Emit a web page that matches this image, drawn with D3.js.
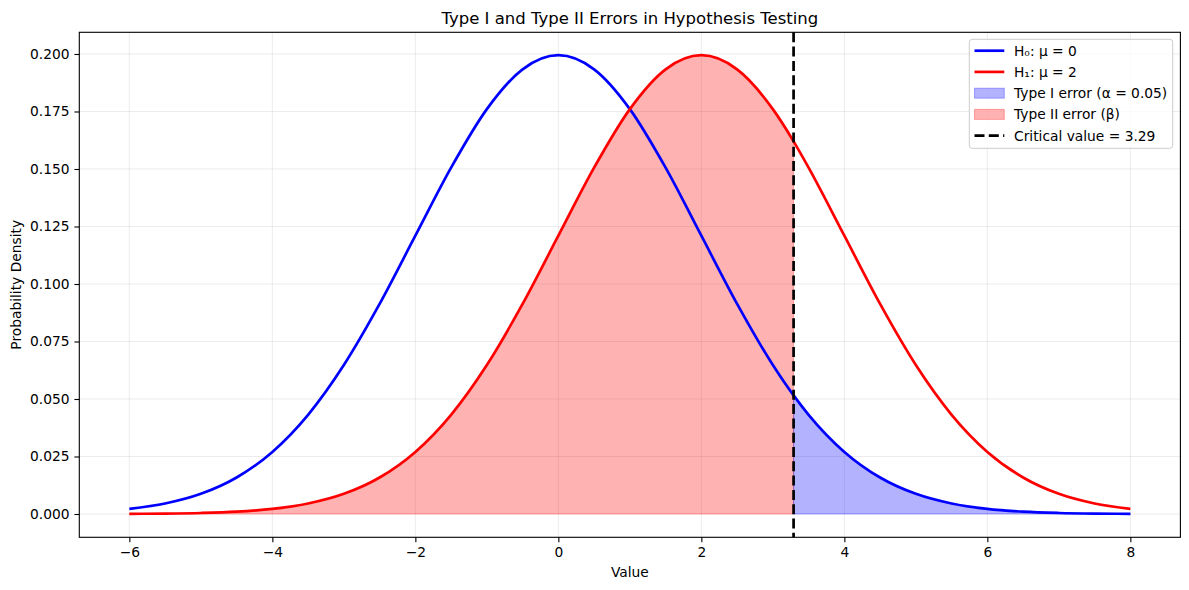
<!DOCTYPE html>
<html>
<head>
<meta charset="utf-8">
<script src="https://cdn.jsdelivr.net/npm/d3@7"></script>
<style>
  html, body { margin: 0; padding: 0; background: #fff; }
  svg { display: block; font-family: "DejaVu Sans", sans-serif; }
</style>
</head>
<body>
<svg id="chart" width="1189" height="590"></svg>
<script>
const xValues = [-6, -5.5, -5, -4.5, -4, -3.5, -3, -2.5, -2, -1.5, -1, -0.5, 0, 0.5, 1, 1.5, 2, 2.5, 3, 3.29, 3.5, 4, 4.5, 5, 5.5, 6, 6.5, 7, 7.5, 8];
const h0Values = [0.00222, 0.00455, 0.00876, 0.01587, 0.02700, 0.04314, 0.06476, 0.09132, 0.12099, 0.15057, 0.17603, 0.19333, 0.19947, 0.19333, 0.17603, 0.15057, 0.12099, 0.09132, 0.06476, 0.05156, 0.04314, 0.02700, 0.01587, 0.00876, 0.00455, 0.00222, 0.00101, 0.00044, 0.00018, 0.00007];
const h1Values = [0.00007, 0.00018, 0.00044, 0.00101, 0.00222, 0.00455, 0.00876, 0.01587, 0.02700, 0.04314, 0.06476, 0.09132, 0.12099, 0.15057, 0.17603, 0.19333, 0.19947, 0.19333, 0.17603, 0.16201, 0.15057, 0.12099, 0.09132, 0.06476, 0.04314, 0.02700, 0.01587, 0.00876, 0.00455, 0.00222];
const criticalValue = 3.29;
const xTicks = [-6, -4, -2, 0, 2, 4, 6, 8];
const yTicks = [0.000, 0.025, 0.050, 0.075, 0.100, 0.125, 0.150, 0.175, 0.200];
const legendLabels = ["H\u2080: \u03bc = 0", "H\u2081: \u03bc = 2", "Type I error (\u03b1 = 0.05)", "Type II error (\u03b2)", "Critical value = 3.29"];
const titleText = "Type I and Type II Errors in Hypothesis Testing";

(function () {
const svg = d3.select("#chart");
const pL = 79.3, pR = 1180.4, pT = 32.3, pB = 537.3;

const x = d3.scaleLinear().domain([-6.7, 8.7]).range([pL, pR]);
const y = d3.scaleLinear().domain([-0.01013, 0.20943]).range([pB, pT]);

const h0 = xValues.map((v, i) => ({x: v, y: h0Values[i]}));
const h1 = xValues.map((v, i) => ({x: v, y: h1Values[i]}));

// grid
const grid = svg.append("g");
xTicks.forEach(t => grid.append("line").attr("x1", x(t)).attr("x2", x(t)).attr("y1", pT).attr("y2", pB)
  .attr("stroke", "#b0b0b0").attr("stroke-opacity", 0.3).attr("stroke-width", 0.8));
yTicks.forEach(t => grid.append("line").attr("x1", pL).attr("x2", pR).attr("y1", y(t)).attr("y2", y(t))
  .attr("stroke", "#b0b0b0").attr("stroke-opacity", 0.3).attr("stroke-width", 0.8));

const curve = d3.curveMonotoneX;
const area = d3.area().x(d => x(d.x)).y0(y(0)).y1(d => y(d.y)).curve(curve);
const line = d3.line().x(d => x(d.x)).y(d => y(d.y)).curve(curve);

// Type II region (under H1, left of critical)
svg.append("path").datum(h1.filter(d => d.x <= criticalValue))
  .attr("d", area).attr("fill", "#ff0000").attr("fill-opacity", 0.3)
  .attr("stroke", "#ff0000").attr("stroke-opacity", 0.3).attr("stroke-width", 1);
// Type I region (under H0, right of critical)
svg.append("path").datum(h0.filter(d => d.x >= criticalValue))
  .attr("d", area).attr("fill", "#0000ff").attr("fill-opacity", 0.3)
  .attr("stroke", "#0000ff").attr("stroke-opacity", 0.3).attr("stroke-width", 1);

svg.append("path").datum(h0).attr("d", line).attr("fill", "none").attr("stroke", "#0000ff").attr("stroke-width", 2.7);
svg.append("path").datum(h1).attr("d", line).attr("fill", "none").attr("stroke", "#ff0000").attr("stroke-width", 2.7);

// critical line
svg.append("line").attr("x1", x(criticalValue)).attr("x2", x(criticalValue)).attr("y1", pT).attr("y2", pB)
  .attr("stroke", "#000").attr("stroke-width", 2.7).attr("stroke-dasharray", "10,4.3");

// axes frame
svg.append("rect").attr("x", pL).attr("y", pT).attr("width", pR - pL).attr("height", pB - pT)
  .attr("fill", "none").attr("stroke", "#000").attr("stroke-width", 1.1);

const xAxis = d3.axisBottom(x).tickValues(xTicks).tickSize(4.9).tickPadding(4.9)
  .tickFormat(d => d < 0 ? "\u2212" + Math.abs(d) : String(d));
const gx = svg.append("g").attr("transform", `translate(0,${pB})`).call(xAxis);
gx.select(".domain").remove();
gx.selectAll("line").attr("stroke", "#000").attr("stroke-width", 1.1);
gx.selectAll("text").attr("font-size", 13.8).attr("fill", "#000").attr("font-family", "DejaVu Sans");

const yAxis = d3.axisLeft(y).tickValues(yTicks).tickSize(4.9).tickPadding(4.9).tickFormat(d3.format(".3f"));
const gy = svg.append("g").attr("transform", `translate(${pL},0)`).call(yAxis);
gy.select(".domain").remove();
gy.selectAll("line").attr("stroke", "#000").attr("stroke-width", 1.1);
gy.selectAll("text").attr("font-size", 13.8).attr("fill", "#000").attr("font-family", "DejaVu Sans");

// title & labels
svg.append("text").attr("x", (pL + pR) / 2).attr("y", 24).attr("text-anchor", "middle")
  .attr("font-size", 16.5).text(titleText);
svg.append("text").attr("x", (pL + pR) / 2).attr("y", 577).attr("text-anchor", "middle")
  .attr("font-size", 13.8).text("Value");
svg.append("text").attr("transform", `translate(20.5,${(pT + pB) / 2}) rotate(-90)`).attr("text-anchor", "middle")
  .attr("font-size", 13.8).text("Probability Density");

// legend
const lg = svg.append("g");
lg.append("rect").attr("x", 969.3).attr("y", 39.3).attr("width", 203.4).attr("height", 109).attr("rx", 3)
  .attr("fill", "#fff").attr("fill-opacity", 0.8).attr("stroke", "#cccccc").attr("stroke-width", 1);
const rowY = [50.7, 71.9, 93.2, 114.4, 135.6];
const hx0 = 974.5, hx1 = 1004.3, tx = 1014;
legendLabels.forEach((lab, i) => {
  const yy = rowY[i];
  if (i === 0 || i === 1) {
    lg.append("line").attr("x1", hx0).attr("x2", hx1).attr("y1", yy).attr("y2", yy)
      .attr("stroke", i === 0 ? "#0000ff" : "#ff0000").attr("stroke-width", 2.7);
  } else if (i === 2 || i === 3) {
    const c = i === 2 ? "#0000ff" : "#ff0000";
    lg.append("rect").attr("x", hx0).attr("y", yy - 5).attr("width", hx1 - hx0).attr("height", 10)
      .attr("fill", c).attr("fill-opacity", 0.3).attr("stroke", c).attr("stroke-opacity", 0.3);
  } else {
    lg.append("line").attr("x1", hx0).attr("x2", hx1).attr("y1", yy).attr("y2", yy)
      .attr("stroke", "#000").attr("stroke-width", 2.7).attr("stroke-dasharray", "10,4.3");
  }
  lg.append("text").attr("x", tx).attr("y", yy).attr("dy", "0.36em").attr("font-size", 13.8).text(lab);
});
})();
</script>
</body>
</html>
